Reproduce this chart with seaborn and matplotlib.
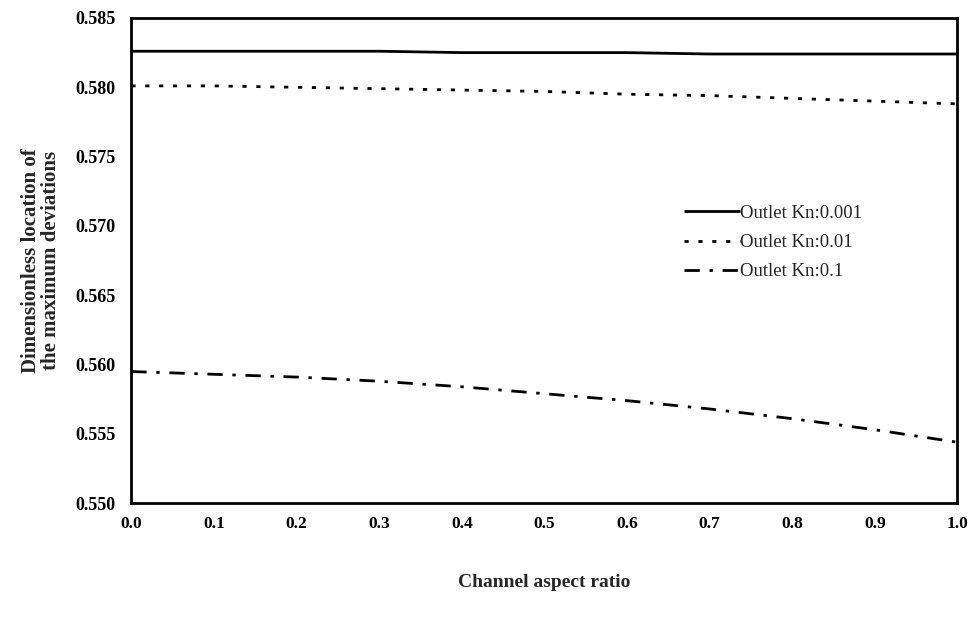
import numpy as np
import pandas as pd
import matplotlib
matplotlib.use("Agg")
import matplotlib.pyplot as plt
import seaborn as sns

# Channel aspect ratio samples
aspect_ratio = [0.0, 0.1, 0.2, 0.3, 0.4, 0.5, 0.6, 0.7, 0.8, 0.9, 1.0]

# Dimensionless location of the maximum deviations for each outlet Knudsen number
kn_0001 = [0.5826, 0.5826, 0.5826, 0.5826, 0.5825, 0.5825, 0.5825, 0.5824, 0.5824, 0.5824, 0.5824]
kn_001 = [0.5801, 0.5801, 0.5800, 0.5799, 0.5798, 0.5797, 0.5795, 0.5794, 0.5792, 0.5790, 0.5788]
kn_01 = [0.5595, 0.5593, 0.5591, 0.5588, 0.5584, 0.5579, 0.5574, 0.5568, 0.5561, 0.5553, 0.5544]

series_labels = ["Outlet Kn:0.001", "Outlet Kn:0.01", "Outlet Kn:0.1"]

x_ticks = [0.0, 0.1, 0.2, 0.3, 0.4, 0.5, 0.6, 0.7, 0.8, 0.9, 1.0]
y_ticks = [0.550, 0.555, 0.560, 0.565, 0.570, 0.575, 0.580, 0.585]

df = pd.DataFrame({
    "ratio": aspect_ratio * 3,
    "value": kn_0001 + kn_001 + kn_01,
    "series": [series_labels[0]] * len(aspect_ratio)
              + [series_labels[1]] * len(aspect_ratio)
              + [series_labels[2]] * len(aspect_ratio),
})

sns.set_theme(style="white")
plt.rcParams["font.family"] = ["Liberation Serif", "DejaVu Serif"]

fig = plt.figure(figsize=(9.73, 6.19), dpi=100)
ax = fig.add_axes([0.135, 0.187, 0.849, 0.784])

styles = {
    series_labels[0]: "-",
    series_labels[1]: (0, (1.5, 3.5)),
    series_labels[2]: (0, (5.5, 3.5, 1.2, 3.5)),
}

sns.lineplot(data=df, x="ratio", y="value", hue="series",
             palette=["black"] * 3, ax=ax, legend=False, linewidth=2.0)
for line, name in zip(ax.get_lines(), series_labels):
    line.set_linestyle(styles[name])
    line.set_label(name)
    line.set_solid_capstyle("butt")
    line.set_dash_capstyle("butt")

ax.set_xlim(0.0, 1.0)
ax.set_ylim(0.550, 0.585)
ax.set_xticks(x_ticks)
ax.set_xticklabels([f"{t:.1f}" for t in x_ticks], fontweight="bold", fontsize=12.5)
ax.set_yticks(y_ticks)
ax.set_yticklabels([f"{t:.3f}" for t in y_ticks], fontweight="bold", fontsize=13)
ax.tick_params(axis="both", direction="inout", length=7, width=1.5,
               color="black", labelcolor="black", pad=8)
ax.tick_params(axis="x", pad=6)

for side in ["left", "right", "top", "bottom"]:
    ax.spines[side].set_color("black")
    ax.spines[side].set_linewidth(2.0)

ax.set_xlabel("Channel aspect ratio", fontweight="bold", fontsize=14, labelpad=30)
ax.set_ylabel("Dimensionless location of\nthe maximum deviations",
              fontweight="bold", fontsize=15, labelpad=10, linespacing=1.0)

leg = ax.legend(loc="upper left", bbox_to_anchor=(0.648, 0.65), frameon=False,
                fontsize=13.5, handlelength=3.0, handletextpad=0.0,
                labelspacing=0.65)

fig.savefig("out.png", dpi=100, facecolor="white")
